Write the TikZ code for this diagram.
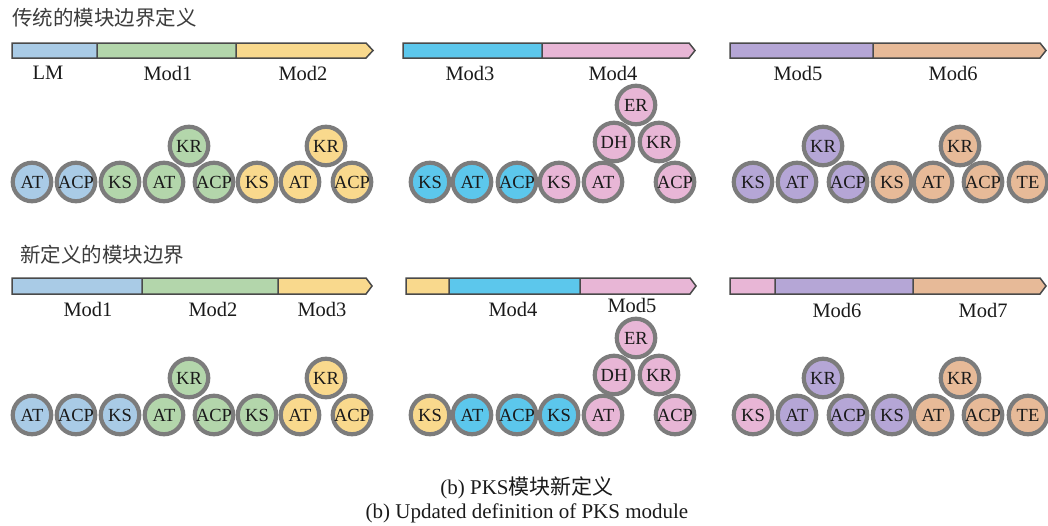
\documentclass[tikz,border=0pt]{standalone}
\usepackage{fontspec}
\setmainfont{Liberation Serif}
\newfontfamily\cjk{Noto Sans CJK SC}
\definecolor{cBlue}{HTML}{A9CBE6}
\definecolor{cGreen}{HTML}{B3D6AB}
\definecolor{cYellow}{HTML}{F9D98D}
\definecolor{cCyan}{HTML}{5CC7EC}
\definecolor{cPink}{HTML}{E8B6D6}
\definecolor{cPurple}{HTML}{B5A6D6}
\definecolor{cOrange}{HTML}{E7BA98}
\definecolor{cRim}{HTML}{7C7C7C}
\definecolor{cBarLine}{HTML}{4A4A4A}
\definecolor{cInk}{HTML}{1A1A1A}
\begin{document}
\begin{tikzpicture}[x=1pt,y=-1pt,
  barline/.style={draw=cBarLine,line width=1.5pt,line join=miter},
  dom/.style={circle,draw=cRim,line width=4.2pt,minimum size=38.5pt,inner sep=0pt,
    text=cInk,font=\fontsize{18.5}{21}\selectfont},
  modlabel/.style={text=cInk,font=\fontsize{20.5}{24}\selectfont,inner sep=0pt},
  heading/.style={text=cInk!85,font=\cjk\fontsize{20.5}{24}\selectfont,inner sep=0pt,anchor=west},
  caption/.style={text=cInk,font=\fontsize{21}{24}\selectfont,inner sep=0pt}]
\useasboundingbox (0,0) rectangle (1048,525);

% ---------- headings ----------
\node[heading] (h1) at (12,18) {传统的模块边界定义};
\node[heading] (h2) at (20,255) {新定义的模块边界};

% ---------- upper bars ----------
\fill[cBlue]   (12,43) rectangle (97,58);
\fill[cGreen]  (97,43) rectangle (236,58);
\fill[cYellow] (236,43) -- (366,43) -- (373,50.5) -- (366,58) -- (236,58) -- cycle;
\draw[barline] (12,43) -- (366,43) -- (373,50.5) -- (366,58) -- (12,58) -- cycle
  (97,43) -- (97,58) (236,43) -- (236,58);

\fill[cCyan] (403,43) rectangle (542,58);
\fill[cPink] (542,43) -- (689,43) -- (695,50.5) -- (689,58) -- (542,58) -- cycle;
\draw[barline] (403,43) -- (689,43) -- (695,50.5) -- (689,58) -- (403,58) -- cycle
  (542,43) -- (542,58);

\fill[cPurple] (730,43) rectangle (873,58);
\fill[cOrange] (873,43) -- (1040,43) -- (1046,50.5) -- (1040,58) -- (873,58) -- cycle;
\draw[barline] (730,43) -- (1040,43) -- (1046,50.5) -- (1040,58) -- (730,58) -- cycle
  (873,43) -- (873,58);

\node[modlabel] (uLM)   at (48,73)  {LM};
\node[modlabel] (uMod1) at (168,73) {Mod1};
\node[modlabel] (uMod2) at (303,73) {Mod2};
\node[modlabel] (uMod3) at (470,73) {Mod3};
\node[modlabel] (uMod4) at (613,73) {Mod4};
\node[modlabel] (uMod5) at (798,73) {Mod5};
\node[modlabel] (uMod6) at (953,73) {Mod6};

% ---------- upper domains ----------
\node[dom,fill=cBlue]   (u1) at (32,182)  {AT};
\node[dom,fill=cBlue]   (u2) at (76,182)  {ACP};
\node[dom,fill=cGreen]  (u3) at (120,182) {KS};
\node[dom,fill=cGreen]  (u4) at (164,182) {AT};
\node[dom,fill=cGreen]  (u5) at (214,182) {ACP};
\node[dom,fill=cGreen]  (u6) at (189,146) {KR};
\node[dom,fill=cYellow] (u7) at (257,182) {KS};
\node[dom,fill=cYellow] (u8) at (300,182) {AT};
\node[dom,fill=cYellow] (u9) at (352,182) {ACP};
\node[dom,fill=cYellow] (u10) at (326,146) {KR};

\node[dom,fill=cCyan] (u11) at (430,182) {KS};
\node[dom,fill=cCyan] (u12) at (472,182) {AT};
\node[dom,fill=cCyan] (u13) at (517,182) {ACP};
\node[dom,fill=cPink] (u14) at (559,182) {KS};
\node[dom,fill=cPink] (u15) at (603,182) {AT};
\node[dom,fill=cPink] (u16) at (675,182) {ACP};
\node[dom,fill=cPink] (u17) at (614,142) {DH};
\node[dom,fill=cPink] (u18) at (659,142) {KR};
\node[dom,fill=cPink] (u19) at (636,105) {ER};

\node[dom,fill=cPurple] (u20) at (753,182) {KS};
\node[dom,fill=cPurple] (u21) at (797,182) {AT};
\node[dom,fill=cPurple] (u22) at (848,182) {ACP};
\node[dom,fill=cPurple] (u23) at (823,146) {KR};
\node[dom,fill=cOrange] (u24) at (892,182) {KS};
\node[dom,fill=cOrange] (u25) at (933,182) {AT};
\node[dom,fill=cOrange] (u26) at (983,182) {ACP};
\node[dom,fill=cOrange] (u27) at (1028,182) {TE};
\node[dom,fill=cOrange] (u28) at (960,146) {KR};

% ---------- lower bars ----------
\fill[cBlue]   (12,278) rectangle (142,294);
\fill[cGreen]  (142,278) rectangle (278,294);
\fill[cYellow] (278,278) -- (366,278) -- (372,286) -- (366,294) -- (278,294) -- cycle;
\draw[barline] (12,278) -- (366,278) -- (372,286) -- (366,294) -- (12,294) -- cycle
  (142,278) -- (142,294) (278,278) -- (278,294);

\fill[cYellow] (406,278) rectangle (449,294);
\fill[cCyan]   (449,278) rectangle (580,294);
\fill[cPink]   (580,278) -- (690,278) -- (696,286) -- (690,294) -- (580,294) -- cycle;
\draw[barline] (406,278) -- (690,278) -- (696,286) -- (690,294) -- (406,294) -- cycle
  (449,278) -- (449,294) (580,278) -- (580,294);

\fill[cPink]   (730,278) rectangle (775,294);
\fill[cPurple] (775,278) rectangle (913,294);
\fill[cOrange] (913,278) -- (1040,278) -- (1046,286) -- (1040,294) -- (913,294) -- cycle;
\draw[barline] (730,278) -- (1040,278) -- (1046,286) -- (1040,294) -- (730,294) -- cycle
  (775,278) -- (775,294) (913,278) -- (913,294);

\node[modlabel] (lMod1) at (88,309)  {Mod1};
\node[modlabel] (lMod2) at (213,309) {Mod2};
\node[modlabel] (lMod3) at (322,309) {Mod3};
\node[modlabel] (lMod4) at (513,309) {Mod4};
\node[modlabel] (lMod5) at (632,305) {Mod5};
\node[modlabel] (lMod6) at (837,310) {Mod6};
\node[modlabel] (lMod7) at (983,310) {Mod7};

% ---------- lower domains ----------
\node[dom,fill=cBlue]   (d1) at (32,415)  {AT};
\node[dom,fill=cBlue]   (d2) at (76,415)  {ACP};
\node[dom,fill=cBlue]   (d3) at (120,415) {KS};
\node[dom,fill=cGreen]  (d4) at (164,415) {AT};
\node[dom,fill=cGreen]  (d5) at (214,415) {ACP};
\node[dom,fill=cGreen]  (d6) at (189,378) {KR};
\node[dom,fill=cGreen]  (d7) at (257,415) {KS};
\node[dom,fill=cYellow] (d8) at (300,415) {AT};
\node[dom,fill=cYellow] (d9) at (352,415) {ACP};
\node[dom,fill=cYellow] (d10) at (326,378) {KR};

\node[dom,fill=cYellow] (d11) at (430,415) {KS};
\node[dom,fill=cCyan]   (d12) at (472,415) {AT};
\node[dom,fill=cCyan]   (d13) at (517,415) {ACP};
\node[dom,fill=cCyan]   (d14) at (559,415) {KS};
\node[dom,fill=cPink]   (d15) at (603,415) {AT};
\node[dom,fill=cPink]   (d16) at (675,415) {ACP};
\node[dom,fill=cPink]   (d17) at (614,375) {DH};
\node[dom,fill=cPink]   (d18) at (659,375) {KR};
\node[dom,fill=cPink]   (d19) at (636,338) {ER};

\node[dom,fill=cPink]   (d20) at (753,415) {KS};
\node[dom,fill=cPurple] (d21) at (797,415) {AT};
\node[dom,fill=cPurple] (d22) at (848,415) {ACP};
\node[dom,fill=cPurple] (d23) at (823,378) {KR};
\node[dom,fill=cPurple] (d24) at (892,415) {KS};
\node[dom,fill=cOrange] (d25) at (933,415) {AT};
\node[dom,fill=cOrange] (d26) at (983,415) {ACP};
\node[dom,fill=cOrange] (d27) at (1028,415) {TE};
\node[dom,fill=cOrange] (d28) at (960,378) {KR};

% ---------- caption ----------
\node[caption] (cap1) at (527,488) {(b) PKS{\cjk 模块新定义}};
\node[caption] (cap2) at (527,513) {(b) Updated definition of PKS module};
\end{tikzpicture}
\end{document}
